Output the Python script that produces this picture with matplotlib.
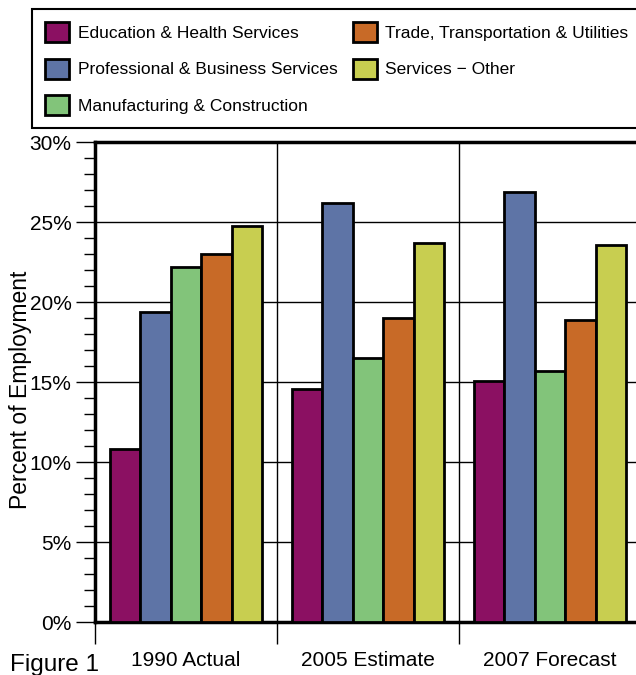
import numpy as np
from matplotlib import pyplot as plt
from matplotlib.patches import Patch
from matplotlib.ticker import MultipleLocator, FixedLocator

plt.rcParams['font.family'] = ['Liberation Sans', 'DejaVu Sans']

categories = ['1990 Actual', '2005 Estimate', '2007 Forecast']
sectors = ['Education & Health Services', 'Professional & Business Services',
           'Manufacturing & Construction', 'Trade, Transportation & Utilities',
           'Services \u2212 Other']
colors = ['#8B1062', '#5E74A6', '#82C47A', '#C86A27', '#C8CE50']
ytick_values = [0, 5, 10, 15, 20, 25, 30]

# percent of employment, one list per sector across the three periods
education = [10.8, 14.55, 15.05]
professional = [19.4, 26.2, 26.85]
manufacturing = [22.2, 16.5, 15.7]
trade = [23.0, 19.0, 18.85]
other = [24.75, 23.7, 23.55]
values = [education, professional, manufacturing, trade, other]


def main():
    fig = plt.figure(figsize=(6.36, 6.75), dpi=100)
    ax = fig.add_axes([95 / 636, 1 - 622 / 675, 546 / 636, 480 / 675])

    x = np.arange(len(categories))
    width = 0.167
    for i, (vals, color) in enumerate(zip(values, colors)):
        ax.bar(x + (i - 2) * width, vals, width, color=color,
               edgecolor='black', linewidth=2, zorder=3)

    ax.set_xlim(-0.5, 2.5)
    ax.set_ylim(0, 30)

    # y axis: major every 5%, minor every 1%
    ax.set_yticks(ytick_values)
    ax.set_yticklabels([f'{v}%' for v in ytick_values], fontsize=15)
    ax.yaxis.set_minor_locator(MultipleLocator(1))
    ax.tick_params(axis='y', which='major', length=14, width=1, pad=3)
    ax.tick_params(axis='y', which='minor', length=8, width=1)

    # x axis: ticks at group boundaries, labels at group centres
    ax.xaxis.set_major_locator(FixedLocator([-0.5, 0.5, 1.5, 2.5]))
    ax.xaxis.set_minor_locator(FixedLocator(x))
    ax.set_xticklabels([])
    ax.set_xticklabels(categories, minor=True, fontsize=15)
    ax.tick_params(axis='x', which='major', length=16, width=1)
    ax.tick_params(axis='x', which='minor', length=0, pad=21)

    ax.grid(True, which='major', color='black', linewidth=1, zorder=0)
    ax.set_axisbelow(True)
    for side in ['left', 'top', 'bottom', 'right']:
        ax.spines[side].set_linewidth(2.5)

    fig.text(21 / 636, 1 - 390 / 675, 'Percent of Employment', fontsize=16.5,
             rotation=90, ha='center', va='center')

    handles = [Patch(facecolor=c, edgecolor='black', linewidth=2) for c in colors]
    leg = fig.legend(handles, sectors, ncol=2, loc='upper left',
                     bbox_to_anchor=(32 / 636, 1 - 9 / 675), fontsize=12.5,
                     fancybox=False, framealpha=1, edgecolor='black',
                     handlelength=1.4, handleheight=1.4, handletextpad=0.5,
                     columnspacing=0.85, labelspacing=0.95,
                     borderpad=0.75, borderaxespad=0)
    leg.get_frame().set_linewidth(1.5)

    fig.text(10 / 636, 1 - 665 / 675, 'Figure 1', fontsize=17.5, va='center')

    fig.savefig('out.png', dpi=100)


if __name__ == '__main__':
    main()
